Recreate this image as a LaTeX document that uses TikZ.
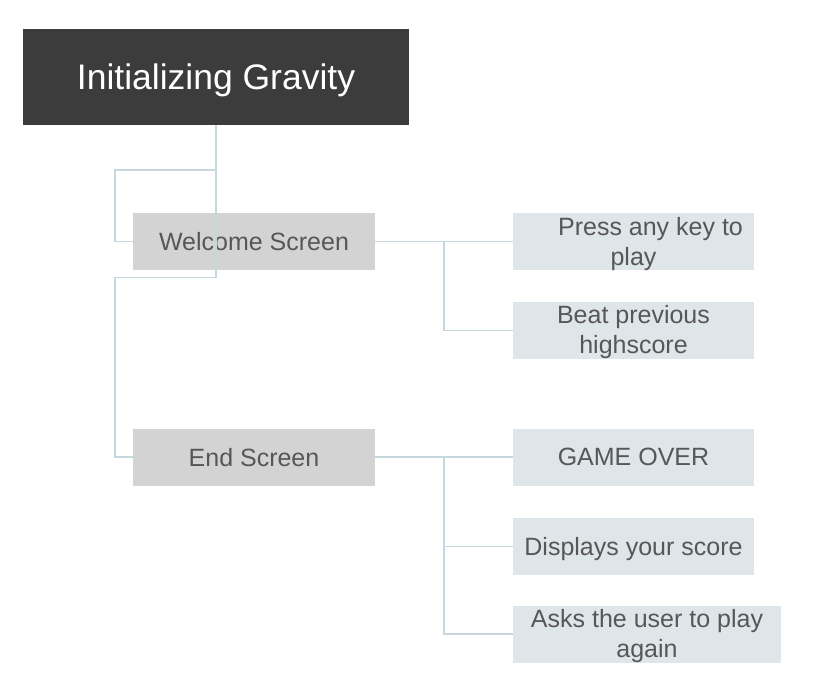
\documentclass[tikz,border=0pt]{standalone}
\usepackage{fontspec}
\setmainfont{Liberation Sans}
\definecolor{titlefill}{HTML}{3C3C3C}
\definecolor{grayfill}{HTML}{D3D3D3}
\definecolor{lightfill}{HTML}{DEE6E9}
\definecolor{linecol}{HTML}{C6D7DD}
\definecolor{txtcol}{HTML}{575757}
\begin{document}
\begin{tikzpicture}[x=1pt,y=-1pt,
  titlebox/.style={rectangle, fill=titlefill, text=white, inner sep=0pt,
    minimum width=386pt, minimum height=96pt, text depth=0pt,
    font=\fontsize{35.5}{42}\selectfont},
  mainbox/.style={rectangle, fill=grayfill, text=txtcol, inner sep=0pt,
    minimum width=242pt, minimum height=57pt, text depth=0pt,
    font=\fontsize{25}{30}\selectfont},
  subbox/.style={rectangle, fill=lightfill, text=txtcol, inner sep=0pt,
    minimum width=241pt, minimum height=57pt, align=center,
    font=\fontsize{25}{30}\selectfont},
  subtext/.style={inner sep=0pt, text=txtcol, align=center,
    font=\fontsize{25}{30}\selectfont},
  conn/.style={draw=linecol, line width=1.8pt}]
\useasboundingbox (0,0) rectangle (836,680);
\fill[white] (0,0) rectangle (836,680);

\node[titlebox] (init) at (216,77) {Initializing Gravity};
\node[mainbox] (welcome) at (254,241.5) {Welcome Screen};
\node[mainbox] (endscr) at (254,457) {End Screen};

\node[subbox] (press) at (633.5,241.5) {};
\node[subtext] (presstext) at ([yshift=-3pt]press.center) {\hspace*{34pt}Press any key to\\play};
\node[subbox] (beat) at (633.5,330.5) {};
\node[subtext] (beattext) at ([yshift=-2pt]beat.center) {Beat previous\\highscore};
\node[subbox, text depth=0pt] (gameover) at (633.5,457) {GAME OVER};
\node[subbox, text depth=0pt] (display) at (633.5,546.5) {Displays your score};
\node[subbox, minimum width=268pt] (asks) at (647,634) {};
\node[subtext] (askstext) at ([yshift=-2pt]asks.center) {Asks the user to play\\again};

\coordinate (leftbusA) at (115,170);
\coordinate (leftbusB) at (115,277.5);
\coordinate (wbus) at (444,241.5);
\coordinate (ebus) at (444,457);

\draw[conn] (init.south) |- (leftbusA) |- (welcome.west);
\draw[conn] (init.south) |- (leftbusB) |- (endscr.west);

\draw[conn] (welcome.east) -- (press.west);
\draw[conn] (wbus) |- (beat.west);

\draw[conn] (endscr.east) -- (gameover.west);
\draw[conn] (ebus) |- (display.west);
\draw[conn] (ebus) |- (asks.west);
\end{tikzpicture}
\end{document}
